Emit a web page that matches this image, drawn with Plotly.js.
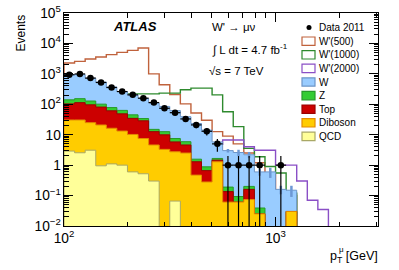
<!DOCTYPE html>
<html><head><meta charset="utf-8">
<script src="https://cdn.plot.ly/plotly-3.0.1.min.js"></script>
<style>html,body{margin:0;padding:0;background:#fff}#chart{width:399px;height:270px}</style>
</head><body><div id="chart"></div>
<script>
// ---- data ----
const binEdges = [100,112.2,125.9,141.3,158.5,177.8,199.5,223.9,251.2,281.8,316.2,354.8,398.1,446.7,501.2,562.3,631.0,707.9,794.3,891.3,1000,1122,1259,1413,1585,1778,1995,2239,2512,2818,3162];
const dataCounts = [933,993,726,520,356,262,204,159,114,74,53,33,21,13,5,1,1,1,1,0,1,0,0,0,0,0,0,0,0,0];
const bkgW       = [810,787,592,439,293,199,159,121,95,72.4,54.5,33.1,21.8,13.3,4.14,2.81,2.51,2.0,0.56,0.6,0.16,0.12,0,0,0,0,0,0,0,0];
const bkgZ       = [37,40,32,20,17,14.5,10.5,5.4,2.4,2.7,1.7,1.3,0.28,0.22,0.2,0.055,0.032,0.04,0.014,0,0,0,0,0,0,0,0,0,0,0];
const bkgTop     = [72.5,82.5,71.1,60.1,44.7,35.3,24.3,21.1,8.0,6.6,3.05,2.1,0.82,0.38,0.17,0.074,0,0.086,0,0,0,0,0,0,0,0,0,0,0,0];
const bkgDiboson = [27.6,27.95,21.8,19.95,15.2,12.2,9.6,6.98,4.3,3.3,2.68,2.5,0.47,0.28,1.29,0.061,0.061,0.074,0.025,0,0,0.03,0,0,0,0,0,0,0,0];
const bkgQCD     = [2.9,2.55,3.1,0.95,1.1,1.0,0.6,0.52,0.30,0,0.066,0,0,0,0,0,0,0,0,0,0,0,0,0,0,0,0,0,0,0];
const bkgErr     = [null,null,null,null,null,null,null,null,null,null,null,null,null,null,null,0.4,0.6,0.5,0.15,0.22,0.05,0.06,null,null,null,null,null,null,null,null];
const sigW500    = [2270,2570,3080,3580,4270,5080,5920,7100,1000,440,210,103,52,30,12.6,9,5,2.5,1.2,0.5,0.12,0.1,0,0,0,0,0,0,0,0];
const sigW1000   = [110,120,130,140,155,170,220,220,220,232,232,300,340,340,204,57,18.4,3.56,1.88,0.9,0.55,0.12,0,0,0,0,0,0,0,0];
const sigW2000   = [1.5,1.6,1.7,1.8,2.0,2.1,2.3,2.5,2.7,3.0,3.3,3.6,4.0,4.4,4.8,6.7,6.7,4.0,3.1,3.1,1.0,1.0,0.30,0.070,0.035,0,0,0,0,0];
const legendLabels = ["Data 2011","W'(500)","W'(1000)","W'(2000)","W","Z","Top","Diboson","QCD"];

// ---- helpers ----
const FLOOR = 1e-4;
const nb = binEdges.length - 1;
function stepXY(vals){
  const x=[binEdges[0]], y=[FLOOR];
  for(let i=0;i<nb;i++){ x.push(binEdges[i]); y.push(vals[i]>0?vals[i]:FLOOR); }
  x.push(binEdges[nb]); y.push(vals[nb-1]>0?vals[nb-1]:FLOOR);
  x.push(binEdges[nb]); y.push(FLOOR);
  return {x,y};
}
function cum(...arrs){ return arrs[0].map((_,i)=>arrs.reduce((s,a)=>s+a[i],0)); }
const cQCD = bkgQCD.slice();
const cDib = cum(bkgQCD,bkgDiboson);
const cTop = cum(bkgQCD,bkgDiboson,bkgTop);
const cZ   = cum(bkgQCD,bkgDiboson,bkgTop,bkgZ);
const cW   = cum(bkgQCD,bkgDiboson,bkgTop,bkgZ,bkgW);
const centers = binEdges.slice(0,nb).map((e,i)=>Math.sqrt(e*binEdges[i+1]));

const C = {
  w500:'#C0623C', w1000:'#2E8A2E', w2000:'#8A4FC6',
  W:'#99CCFF', Wl:'#6E96C8', Z:'#33CC33', Zl:'#27992A', Top:'#CC0000', Topl:'#9A0000',
  Dib:'#FFCC00', Dibl:'#E38A00', QCD:'#FFFF99', QCDl:'#A9A866'
};

const traces = [];
function sigTrace(vals,color){
  const s=stepXY(vals);
  return {x:s.x,y:s.y,mode:'lines',line:{shape:'hv',color:color,width:1.4,simplify:false},hoverinfo:'skip',showlegend:false};
}
traces.push(sigTrace(sigW500,C.w500));
traces.push(sigTrace(sigW1000,C.w1000));
traces.push(sigTrace(sigW2000,C.w2000));
function stackTrace(vals,fill,line){
  const s=stepXY(vals);
  return {x:s.x,y:s.y,mode:'lines',fill:'tozeroy',fillcolor:fill,line:{shape:'hv',color:line,width:1,simplify:false},hoverinfo:'skip',showlegend:false};
}
traces.push(stackTrace(cW,C.W,C.Wl));
traces.push(stackTrace(cZ,C.Z,C.Zl));
traces.push(stackTrace(cTop,C.Top,C.Topl));
traces.push(stackTrace(cDib,C.Dib,C.Dibl));
traces.push(stackTrace(cQCD,C.QCD,C.QCDl));
// MC uncertainty bars
const ex=[],ey=[],ee=[];
bkgErr.forEach((e,i)=>{ if(e!==null){ ex.push(centers[i]); ey.push(cW[i]); ee.push(e);} });
traces.push({x:ex,y:ey,mode:'markers',marker:{size:1,opacity:0},error_y:{type:'data',array:ee,color:'#6C98D4',thickness:2.5,width:0},hoverinfo:'skip',showlegend:false});
// data
const dx=[],dy=[],dep=[],dem=[],dxp=[],dxm=[];
dataCounts.forEach((n,i)=>{ if(n>0){ dx.push(centers[i]); dy.push(n); dep.push(Math.sqrt(n)); dem.push(Math.sqrt(n)); dxp.push(binEdges[i+1]-centers[i]); dxm.push(centers[i]-binEdges[i]); } });
traces.push({x:dx,y:dy,mode:'markers',marker:{color:'#000',size:6.5},
  error_y:{type:'data',array:dep,arrayminus:dem,color:'#000',thickness:1.2,width:0},
  error_x:{type:'data',array:dxp,arrayminus:dxm,color:'#000',thickness:1.2,width:0},
  hoverinfo:'skip',showlegend:false});

// ---- layout ----
const L=64,R=378,T=13,B=226;
const PX=p=>(p-L)/(R-L), PY=p=>(B-p)/(B-T);
const FONT='Liberation Sans, Arial, Helvetica, sans-serif';
const shapes=[], ann=[];
const rowY=[27.5,41.2,54.8,68.4,82,95.6,109.2,122.8,136.4];
const boxStyle=[null,[ '#fff',C.w500],['#fff',C.w1000],['#fff',C.w2000],[C.W,C.Wl],[C.Z,C.Zl],[C.Top,C.Topl],[C.Dib,C.Dibl],[C.QCD,C.QCDl]];
legendLabels.forEach((lab,i)=>{
  const y=rowY[i];
  if(i===0){
    shapes.push({type:'circle',xref:'paper',yref:'paper',x0:PX(306.5),x1:PX(311.5),y0:PY(y+2.5),y1:PY(y-2.5),fillcolor:'#000',line:{width:0}});
  } else {
    shapes.push({type:'rect',xref:'paper',yref:'paper',x0:PX(302),x1:PX(315),y0:PY(y+4.2),y1:PY(y-4.2),fillcolor:boxStyle[i][0],line:{color:boxStyle[i][1],width:1.2}});
  }
  ann.push({xref:'paper',yref:'paper',x:PX(317),y:PY(y),xanchor:'left',yanchor:'middle',text:lab,showarrow:false,font:{family:FONT,size:10,color:'#000'}});
});
ann.push({xref:'paper',yref:'paper',x:PX(111),y:PY(27),xanchor:'left',yanchor:'middle',text:'<b><i>ATLAS</i></b>',showarrow:false,font:{family:FONT,size:13,color:'#000'}});
ann.push({xref:'paper',yref:'paper',x:PX(210),y:PY(27),xanchor:'left',yanchor:'middle',text:"W' \u2192 \u03bc\u03bd",showarrow:false,font:{family:FONT,size:11.5,color:'#000'}});
ann.push({xref:'paper',yref:'paper',x:PX(210),y:PY(49),xanchor:'left',yanchor:'middle',text:"\u222b L dt = 4.7 fb<sup>-1</sup>",showarrow:false,font:{family:FONT,size:11.5,color:'#000'}});
ann.push({xref:'paper',yref:'paper',x:PX(207),y:PY(70.5),xanchor:'left',yanchor:'middle',text:"\u221as = 7 TeV",showarrow:false,font:{family:FONT,size:11.5,color:'#000'}});
ann.push({xref:'paper',yref:'paper',x:PX(20),y:1,xanchor:'center',yanchor:'top',text:'Events',textangle:-90,showarrow:false,font:{family:FONT,size:12,color:'#000'}});
ann.push({xref:'paper',yref:'paper',x:PX(380),y:PY(256.5),xanchor:'right',yanchor:'middle',text:'p<sub>T</sub> [GeV]',showarrow:false,font:{family:FONT,size:12.5,color:'#000'}});
ann.push({xref:'paper',yref:'paper',x:PX(337),y:PY(249.5),xanchor:'left',yanchor:'middle',text:'\u03bc',showarrow:false,font:{family:FONT,size:8,color:'#000'}});

const axisCommon={type:'log',showgrid:false,zeroline:false,showline:true,linecolor:'#000',linewidth:1,mirror:'ticks',
  ticks:'inside',tickcolor:'#000',exponentformat:'power',dtick:1,
  tickfont:{family:FONT,size:11,color:'#000'},
  minor:{ticks:'inside',dtick:'D1',ticklen:4.5,tickcolor:'#000',showgrid:false}};
const layout={
  width:399,height:270,margin:{l:L,r:399-R,t:T,b:270-B},
  paper_bgcolor:'#fff',plot_bgcolor:'#fff',showlegend:false,
  xaxis:Object.assign({},axisCommon,{range:[2,Math.log10(3050)],ticklen:9}),
  yaxis:Object.assign({},axisCommon,{range:[-2,5],ticklen:9}),
  shapes:shapes,annotations:ann
};
Plotly.newPlot('chart',traces,layout,{displayModeBar:false,staticPlot:true});
</script></body></html>
